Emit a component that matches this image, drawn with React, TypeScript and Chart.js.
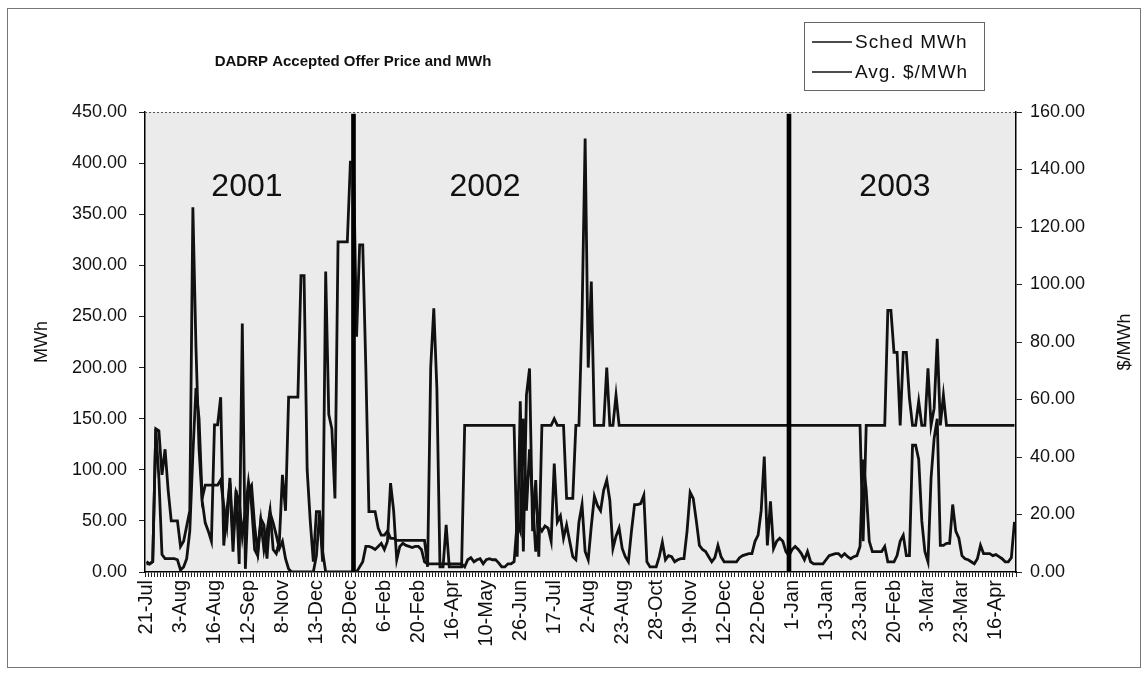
import React, { useEffect, useRef } from 'react';
import { Chart, registerables } from 'chart.js';

Chart.register(...registerables);

// Tick labels shown under the category axis (one every DAYS_PER_LABEL offer days)
const labelDates = [
  '21-Jul', '3-Aug', '16-Aug', '12-Sep', '8-Nov', '13-Dec', '28-Dec', '6-Feb', '20-Feb',
  '16-Apr', '10-May', '26-Jun', '17-Jul', '2-Aug', '23-Aug', '28-Oct', '19-Nov', '12-Dec',
  '22-Dec', '1-Jan', '13-Jan', '23-Jan', '20-Feb', '3-Mar', '23-Mar', '16-Apr',
];
const DAYS_PER_LABEL = 11;

// Sched MWh (left axis)
const schedMWh = [
  8, 8, 10, 140, 92, 17, 13, 13, 13, 13, 12,
  2, 5, 13, 40, 115, 180, 150, 72, 85, 85, 85,
  85, 85, 90, 65, 45, 92, 30, 78, 70, 35, 60,
  88, 65, 22, 16, 52, 46, 13, 58, 48, 36, 23,
  30, 13, 3, 0, 0, 0, 0, 0, 0, 0, 0,
  16, 57, 20, 0, 0, 0, 0, 0, 0, 0, 0,
  0, 0, 0, 5, 10, 25, 25, 24, 22, 25, 28,
  22, 30, 87, 60, 12, 25, 28, 26, 25, 24, 25,
  25, 22, 10, 8, 8, 8, 8, 8, 8, 8, 8,
  8, 8, 8, 8, 5, 12, 14, 10, 12, 13, 8,
  12, 13, 12, 12, 9, 5, 5, 8, 8, 10, 49,
  40, 150, 60, 120, 70, 20, 45, 40, 45, 43, 30,
  106, 49, 55, 33, 46, 30, 15, 12, 49, 66, 20,
  12, 45, 74, 65, 60, 80, 90, 70, 23, 35, 43,
  23, 15, 10, 40, 66, 66, 67, 75, 10, 5, 5,
  5, 15, 29, 12, 16, 15, 10, 12, 13, 13, 40,
  78, 72, 50, 26, 22, 20, 15, 10, 14, 26, 15,
  10, 10, 10, 10, 10, 14, 16, 17, 18, 18, 30,
  36, 60, 113, 26, 69, 23, 30, 33, 30, 20, 16,
  22, 25, 22, 18, 12, 20, 10, 8, 8, 8, 8,
  12, 16, 17, 18, 18, 15, 18, 15, 13, 15, 16,
  25, 110, 80, 30, 20, 20, 20, 20, 25, 10, 10,
  10, 16, 30, 36, 16, 16, 124, 124, 110, 50, 20,
  10, 92, 131, 150, 26, 26, 28, 28, 66, 40, 33,
  16, 13, 12, 10, 8, 13, 26, 18, 18, 18, 16,
  17, 15, 13, 10, 10, 14, 49,
];

// Avg. $/MWh (right axis)
const avgPrice = [
  3.6, 2.8, 3.6, 49.8, 49.1, 33.8, 42.7, 28.4, 17.8, 17.8, 17.8,
  8.9, 10.7, 16.0, 21.3, 126.9, 78.2, 42.7, 24.9, 17.1, 14.2, 10.7,
  51.2, 51.2, 60.8, 9.2, 21.3, 30.9, 7.1, 28.4, 2.8, 86.4, 1.1,
  28.4, 30.2, 16.0, 7.1, 17.8, 7.8, 14.2, 21.3, 7.8, 6.4, 10.7,
  33.8, 21.3, 60.8, 60.8, 60.8, 60.8, 103.1, 103.1, 35.6, 17.8, 3.6,
  21.0, 21.0, 3.6, 104.5, 54.8, 49.8, 25.6, 114.8, 114.8, 114.8, 114.8,
  142.6, 142.6, 81.8, 113.8, 113.8, 71.1, 21.0, 21.0, 21.0, 15.3, 12.8,
  12.8, 14.2, 11.7, 11.7, 11.0, 11.0, 11.0, 11.0, 11.0, 11.0, 11.0,
  11.0, 11.0, 11.0, 1.8, 71.1, 91.7, 64.0, 1.8, 1.8, 16.4, 1.8,
  1.8, 1.8, 1.8, 1.8, 51, 51, 51, 51, 51, 51, 51,
  51, 51, 51, 51, 51, 51, 51, 51, 51, 51, 5.3,
  59.4, 7.1, 61.5, 70.8, 14.2, 32.0, 5.3, 51, 51, 51, 51,
  53.3, 51, 51, 51, 25.6, 25.6, 25.6, 51, 51, 88.9, 150.8,
  71.1, 101.0, 51, 51, 51, 51, 71.1, 51, 51, 61.5, 51,
  51, 51, 51, 51, 51, 51, 51, 51, 51, 51, 51,
  51, 51, 51, 51, 51, 51, 51, 51, 51, 51, 51,
  51, 51, 51, 51, 51, 51, 51, 51, 51, 51, 51,
  51, 51, 51, 51, 51, 51, 51, 51, 51, 51, 51,
  51, 51, 51, 51, 51, 51, 51, 51, 51, 51, 51,
  51, 51, 51, 51, 51, 51, 51, 51, 51, 51, 51,
  51, 51, 51, 51, 51, 51, 51, 51, 51, 51, 51,
  51, 10.7, 51, 51, 51, 51, 51, 51, 51, 91.0, 91.0,
  76.4, 76.4, 51, 76.4, 76.4, 60.4, 51, 51, 59.4, 51, 51,
  70.8, 51, 56.9, 81.1, 51, 61.5, 51, 51, 51, 51, 51,
  51, 51, 51, 51, 51, 51, 51, 51, 51, 51, 51,
  51, 51, 51, 51, 51, 51, 51,
];

// Year separators (category index of the day) and their height in MWh
const dividerDays = [67, 208];
const dividerMWh = 448;

const yearLabels = ['2001', '2002', '2003'];

// Annotation placement (category index, MWh level) for the year labels
const YEAR_ANCHORS = [
  { at: 32.5, level: 376 },
  { at: 109.6, level: 376 },
  { at: 242.3, level: 376 },
];

const FONT = '"Liberation Sans", Arial, Helvetica, sans-serif';

const categories = schedMWh.map((_, i) =>
  i % DAYS_PER_LABEL === 0 && labelDates[i / DAYS_PER_LABEL] !== undefined
    ? labelDates[i / DAYS_PER_LABEL]
    : ''
);
const dividerData = schedMWh.map((_, i) => (dividerDays.includes(i) ? dividerMWh : null));

const decorPlugin = {
  id: 'decor',
  beforeDraw(chart: any) {
    const { ctx, chartArea: a } = chart;
    ctx.save();
    ctx.fillStyle = '#ffffff';
    ctx.fillRect(0, 0, chart.width, chart.height);
    ctx.fillStyle = '#ebebeb';
    ctx.fillRect(a.left, a.top, a.right - a.left, a.bottom - a.top);
    ctx.restore();
  },
  afterDraw(chart: any) {
    const { ctx, chartArea: a } = chart;
    const xs = chart.scales.x;
    const ys = chart.scales.y;
    ctx.save();

    // dotted top edge of plot area
    ctx.strokeStyle = '#555';
    ctx.lineWidth = 1;
    ctx.setLineDash([2, 2]);
    ctx.beginPath();
    ctx.moveTo(a.left, a.top + 0.5);
    ctx.lineTo(a.right, a.top + 0.5);
    ctx.stroke();
    ctx.setLineDash([]);

    // outer frame
    ctx.strokeStyle = '#777';
    ctx.lineWidth = 1;
    ctx.strokeRect(7.5, 8.5, 1133, 659);

    // title
    ctx.fillStyle = '#111';
    ctx.font = `bold 15px ${FONT}`;
    ctx.textAlign = 'center';
    ctx.textBaseline = 'middle';
    ctx.fillText('DADRP Accepted Offer Price and MWh', 353, 62);

    // year labels
    ctx.font = `32px ${FONT}`;
    YEAR_ANCHORS.forEach((p, k) => {
      ctx.fillText(yearLabels[k], xs.getPixelForValue(p.at), ys.getPixelForValue(p.level));
    });

    // axis titles
    ctx.font = `18px ${FONT}`;
    ctx.save();
    ctx.translate(42, (a.top + a.bottom) / 2);
    ctx.rotate(-Math.PI / 2);
    ctx.fillText('MWh', 0, 0);
    ctx.restore();
    ctx.save();
    ctx.translate(1125, (a.top + a.bottom) / 2);
    ctx.rotate(-Math.PI / 2);
    ctx.fillText('$/MWh', 0, 0);
    ctx.restore();

    // legend
    ctx.strokeStyle = '#666';
    ctx.lineWidth = 1;
    ctx.strokeRect(804.5, 22.5, 180, 68);
    const names = chart.data.datasets.filter((d: any) => d.type === 'line').map((d: any) => d.label);
    ctx.font = `19px ${FONT}`;
    ctx.textAlign = 'left';
    (ctx as any).letterSpacing = '1px';
    names.forEach((n: string, k: number) => {
      const y = 42 + k * 30;
      ctx.strokeStyle = '#111';
      ctx.lineWidth = 1.5;
      ctx.beginPath();
      ctx.moveTo(812, y);
      ctx.lineTo(852, y);
      ctx.stroke();
      ctx.fillText(n, 855, y + 1);
    });
    (ctx as any).letterSpacing = '0px';
    ctx.restore();
  },
};

export default function App() {
  const ref = useRef<HTMLCanvasElement | null>(null);

  useEffect(() => {
    if (!ref.current) return;
    const chart = new Chart(ref.current, {
      type: 'line',
      data: {
        labels: categories,
        datasets: [
          {
            type: 'line',
            label: 'Sched MWh',
            data: schedMWh,
            yAxisID: 'y',
            borderColor: '#111',
            borderWidth: 2.8,
            pointRadius: 0,
            tension: 0,
            order: 2,
          },
          {
            type: 'line',
            label: 'Avg. $/MWh',
            data: avgPrice,
            yAxisID: 'y1',
            borderColor: '#111',
            borderWidth: 2.8,
            pointRadius: 0,
            tension: 0,
            order: 1,
          },
          {
            type: 'bar',
            label: 'year divider',
            data: dividerData,
            yAxisID: 'y',
            backgroundColor: '#000',
            barThickness: 4,
            order: 0,
          } as any,
        ],
      },
      options: {
        responsive: false,
        animation: false,
        layout: { padding: { top: 112, left: 0, right: 0, bottom: 0 } },
        plugins: {
          legend: { display: false },
          title: { display: false },
          tooltip: { enabled: false },
        },
        scales: {
          x: {
            type: 'category',
            offset: true,
            grid: {
              display: true,
              drawOnChartArea: false,
              drawTicks: true,
              tickLength: 5,
              color: '#222',
              offset: true,
            },
            border: { display: true, color: '#000', width: 1.5 },
            ticks: {
              autoSkip: false,
              maxRotation: 90,
              minRotation: 90,
              padding: 3,
              color: '#111',
              font: { family: FONT, size: 20 },
            },
            afterFit: (s: any) => {
              s.height = 102;
            },
          },
          y: {
            position: 'left',
            min: 0,
            max: 450,
            grid: { drawOnChartArea: false, tickLength: 6, color: '#222' },
            border: { display: true, color: '#000', width: 1.5 },
            ticks: {
              stepSize: 50,
              padding: 12,
              color: '#111',
              font: { family: FONT, size: 18 },
              callback: (v: any) => Number(v).toFixed(2),
            },
            afterFit: (s: any) => {
              s.width = 145;
            },
          },
          y1: {
            position: 'right',
            min: 0,
            max: 160,
            grid: { drawOnChartArea: false, tickLength: 6, color: '#222' },
            border: { display: true, color: '#000', width: 1.5 },
            ticks: {
              stepSize: 20,
              padding: 8,
              color: '#111',
              font: { family: FONT, size: 18 },
              callback: (v: any) => Number(v).toFixed(2),
            },
            afterFit: (s: any) => {
              s.width = 132;
            },
          },
        },
      },
      plugins: [decorPlugin],
    });
    return () => chart.destroy();
  }, []);

  return (
    <div style={{ position: 'absolute', left: 0, top: 0, width: 1148, height: 674, background: '#fff' }}>
      <canvas ref={ref} width={1148} height={674} style={{ display: 'block' }} />
    </div>
  );
}
